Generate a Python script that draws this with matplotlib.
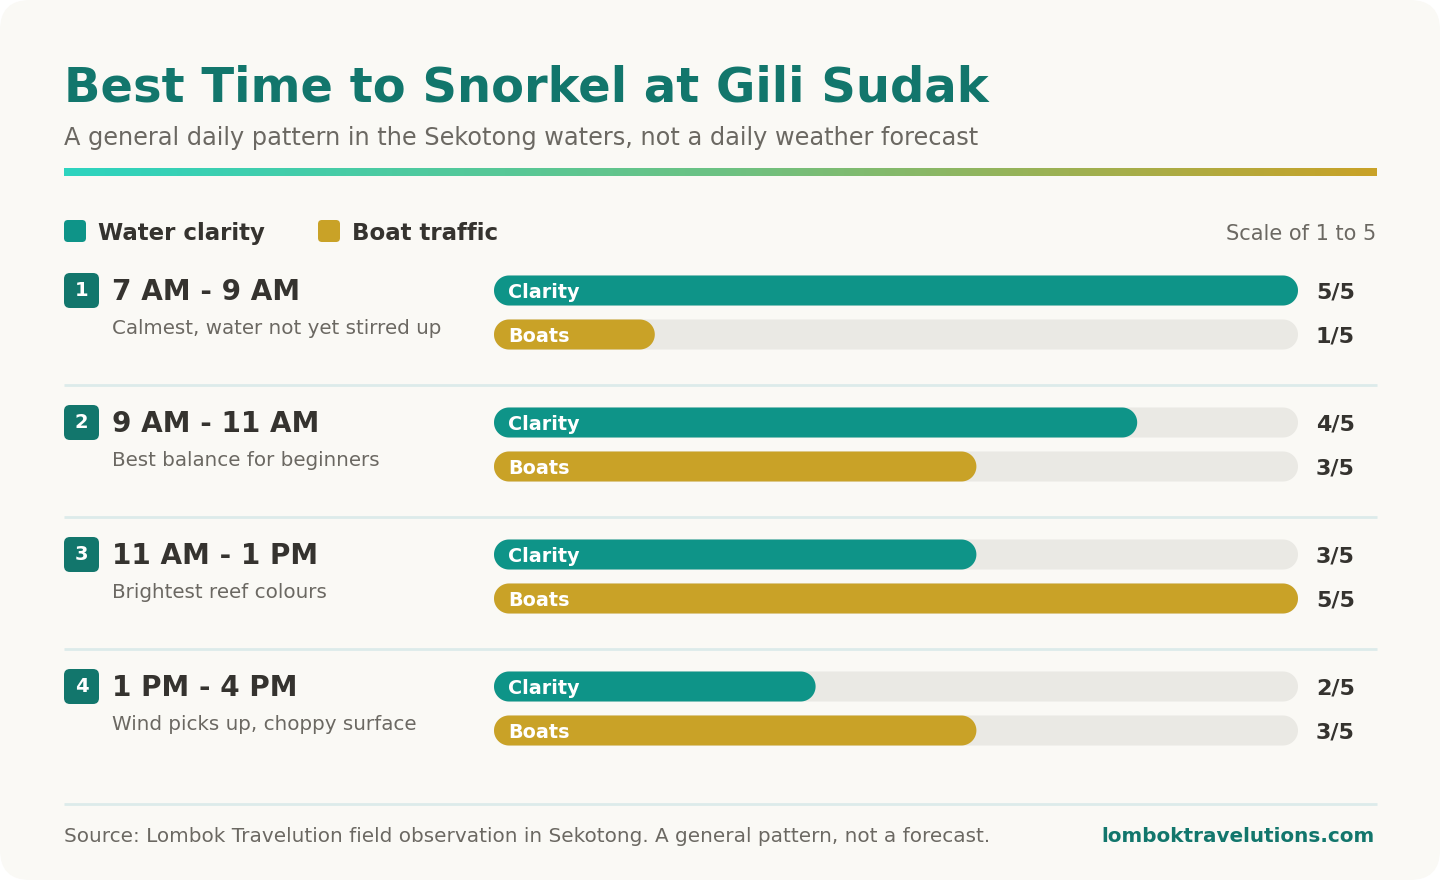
import numpy as np
import matplotlib.pyplot as plt
from matplotlib.patches import FancyBboxPatch, Polygon
from matplotlib.colors import LinearSegmentedColormap

# data
time_slots = ["7 AM - 9 AM", "9 AM - 11 AM", "11 AM - 1 PM", "1 PM - 4 PM"]
notes = ["Calmest, water not yet stirred up", "Best balance for beginners",
         "Brightest reef colours", "Wind picks up, choppy surface"]
clarity = [5, 4, 3, 2]
boats = [1, 3, 5, 3]
scale_max = 5

# colours
bg = '#faf9f5'
teal_dark = '#12766c'
teal = '#0e9488'
gold = '#c9a227'
track = '#eae9e4'
ink = '#35332f'
grey = '#6b6862'
rule = '#dcebea'

W, H = 1440, 880
fig = plt.figure(figsize=(W / 100, H / 100), dpi=100, facecolor='white')
ax = fig.add_axes([0, 0, 1, 1])
ax.set_xlim(0, W)
ax.set_ylim(H, 0)
ax.axis('off')

# card
ax.add_patch(FancyBboxPatch((0, 0), W, H, boxstyle="round,pad=0,rounding_size=30",
                            fc=bg, ec='none', zorder=0))

# title block
ax.text(64, 102, "Best Time to Snorkel at Gili Sudak", fontsize=34.6, fontweight='bold',
        color=teal_dark, va='baseline', ha='left')
ax.text(64, 145, "A general daily pattern in the Sekotong waters, not a daily weather forecast",
        fontsize=17.25, color=grey, va='baseline', ha='left')

grad = LinearSegmentedColormap.from_list('g', ['#2dd4bf', '#6cc283', '#c9a227'])
ax.imshow(np.linspace(0, 1, 256)[None, :], cmap=grad, aspect='auto',
          extent=(64, 1377, 176, 168), zorder=2)
ax.set_xlim(0, W)
ax.set_ylim(H, 0)

# legend
for x0, c, lab in [(64, teal, "Water clarity"), (318, gold, "Boat traffic")]:
    ax.add_patch(FancyBboxPatch((x0, 220), 22, 22, boxstyle="round,pad=0,rounding_size=4",
                                fc=c, ec='none'))
    ax.text(x0 + 34, 240, lab, fontsize=16.5, fontweight='bold', color=ink, va='baseline')
ax.text(1376, 240, "Scale of 1 to 5", fontsize=15, color=grey, va='baseline', ha='right')

# bar axes: x in scale units, y in pixels
bx0, bx1 = 494, 1298
bax = fig.add_axes([bx0 / W, 0, (bx1 - bx0) / W, 1])
bax.set_xlim(0, scale_max)
bax.set_ylim(H, 0)
bax.axis('off')
px_per_unit = (bx1 - bx0) / scale_max
bar_h = 30
r = bar_h / 2
ru = r / px_per_unit  # cap radius in scale units
theta = np.linspace(np.pi / 2, 3 * np.pi / 2, 40)


def pill(y, val, color, z):
    left = np.column_stack([ru + ru * np.cos(theta), y - r * np.sin(theta)])
    right = np.column_stack([val - ru - ru * np.cos(theta), y + r * np.sin(theta)])
    bax.add_patch(Polygon(np.vstack([left, right]), closed=True, fc=color, ec='none', zorder=z))


pitch = 132
for i, (slot, note, c, b) in enumerate(zip(time_slots, notes, clarity, boats)):
    y = 290 + i * pitch
    # badge
    ax.add_patch(FancyBboxPatch((64, y - 17), 35, 35, boxstyle="round,pad=0,rounding_size=6",
                                fc=teal_dark, ec='none'))
    ax.text(81.5, y + 0.5, str(i + 1), fontsize=14, fontweight='bold', color='white',
            ha='center', va='center')
    ax.text(112, y + 10, slot, fontsize=20.1, fontweight='bold', color=ink, va='baseline')
    ax.text(112, y + 44, note, fontsize=14.3, color=grey, va='baseline')

    for dy, val, col, lab in [(0.5, c, teal, "Clarity"), (44.5, b, gold, "Boats")]:
        yc = y + dy
        pill(yc, scale_max, track, 1)
        pill(yc, val, col, 2)
        bax.text(508, yc + 7.5, lab, fontsize=13.8, fontweight='bold', color='white',
                 va='baseline', zorder=5, transform=ax.transData)
        ax.text(1316, yc + 8.5, f"{val}/{scale_max}", fontsize=16, fontweight='bold',
                color=ink, va='baseline')

    if i < len(time_slots) - 1:
        ax.plot([64, 1377], [y + 95, y + 95], color=rule, lw=2, solid_capstyle='butt')

# footer
ax.plot([64, 1377], [804, 804], color=rule, lw=2, solid_capstyle='butt')
ax.text(64, 842, "Source: Lombok Travelution field observation in Sekotong. A general pattern, not a forecast.",
        fontsize=14.4, color=grey, va='baseline')
ax.text(1375, 842, "lomboktravelutions.com", fontsize=14.4, fontweight='bold', color=teal_dark,
        va='baseline', ha='right')

fig.savefig('out.png', dpi=100, facecolor='white')
